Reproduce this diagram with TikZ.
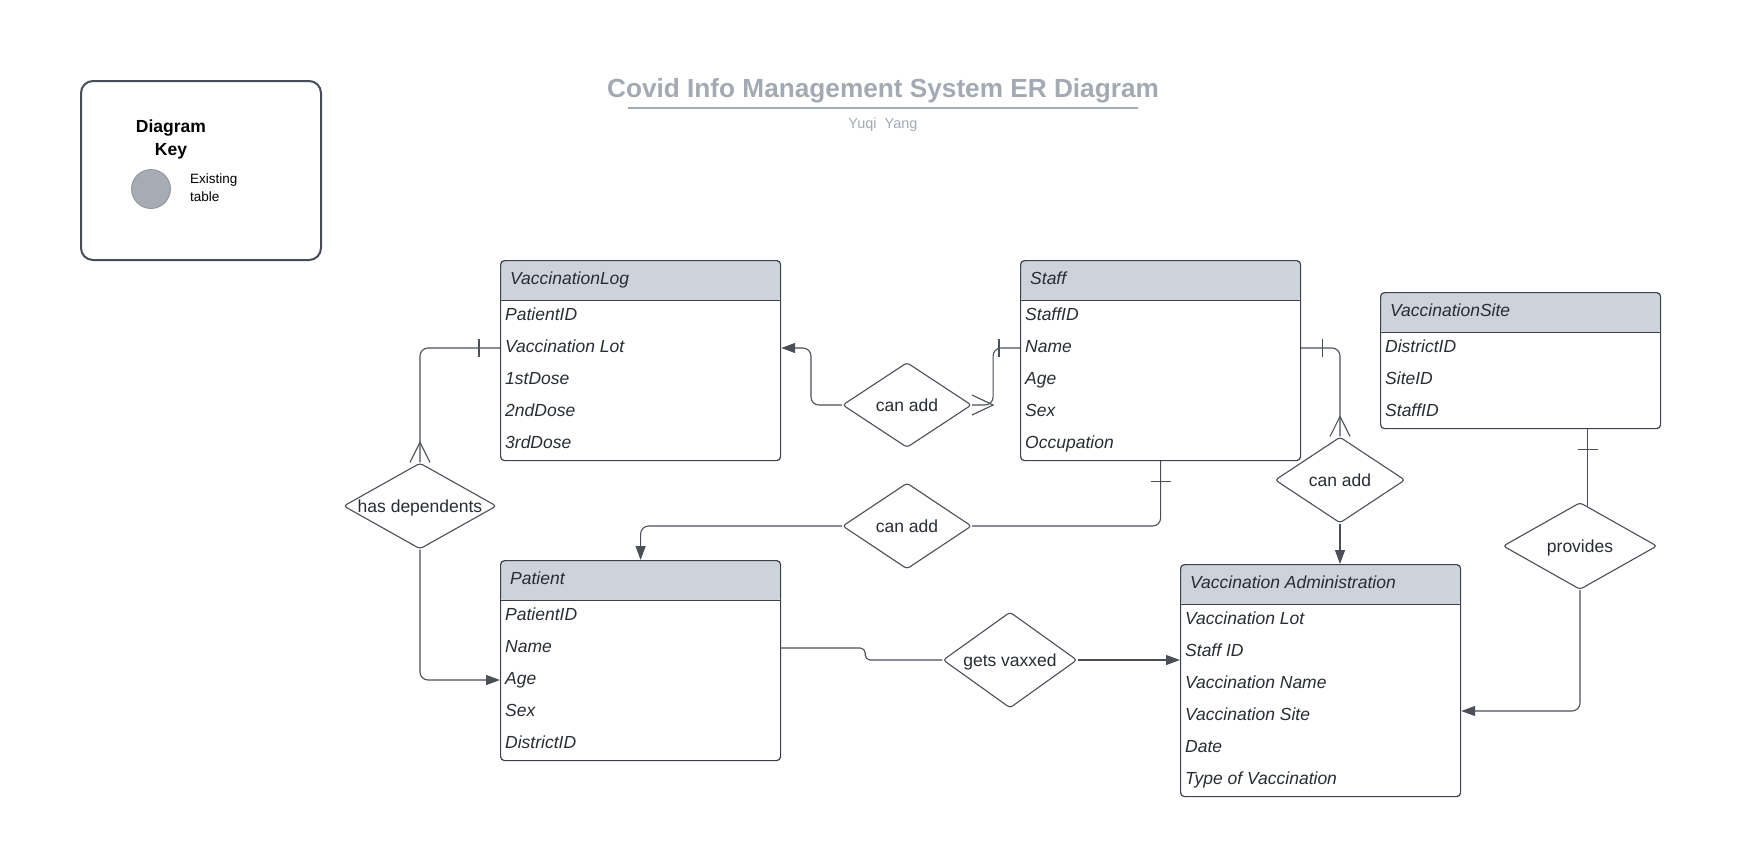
\documentclass[tikz,border=0pt]{standalone}
\usepackage{fontspec}
\setmainfont{Liberation Sans}
\usetikzlibrary{shapes.geometric,arrows.meta}
\definecolor{txt}{HTML}{282C34}
\definecolor{tblborder}{HTML}{3B404A}
\definecolor{lncol}{HTML}{4A4F58}
\definecolor{hdrfill}{HTML}{CDD3DB}
\definecolor{titlegray}{HTML}{A4AAB3}
\definecolor{keyborder}{HTML}{474C57}
\definecolor{dotfill}{HTML}{A7ACB4}
\definecolor{dotborder}{HTML}{8E939B}
\newcommand\ertbl[6]{%
  \node[tblbox, minimum height=#4pt, anchor=north west] (#1) at (#2,#3) {};
  \node[celltext] (#1-h) at (#2+10,#3+24.5) {#5};
  \foreach \rowtxt [count=\i] in {#6} {%
    \coordinate (#1-r\i) at (#2,#3+24+32*\i);
    \node[celltext] (#1-\i) at (#2+5,#3+28.5+32*\i) {\rowtxt};}
}
\begin{document}
\begin{tikzpicture}[x=1pt,y=-1pt,
  tblbox/.style={draw=tblborder, line width=1.2pt, rounded corners=4pt, minimum width=280pt, inner sep=0pt,
    path picture={\fill[hdrfill] (path picture bounding box.north west) rectangle ([yshift=-40pt]path picture bounding box.north east);
      \draw[tblborder, line width=1.2pt] ([yshift=-40pt]path picture bounding box.north west) -- ([yshift=-40pt]path picture bounding box.north east);}},
  celltext/.style={anchor=base west, inner sep=0pt, text=txt, font=\itshape\fontsize{17.5}{20}\selectfont},
  rel/.style={diamond, draw=lncol, line width=1.1pt, rounded corners=3pt, aspect=1.78, inner sep=0pt, text=txt,
    text depth=0pt, font=\fontsize{17.5}{20}\selectfont},
  conn/.style={draw=lncol, line width=1.1pt},
  arr/.style={-{Triangle[length=14pt,width=10pt]}}]
\fill[white] (0,0) rectangle (1760,852);
\useasboundingbox (0,0) rectangle (1760,852);

% title
\node[font=\bfseries\fontsize{26.2}{30}\selectfont, text=titlegray, inner sep=0pt] (title) at (883,91) {Covid Info Management System ER Diagram};
\draw[titlegray, line width=1.6pt] (628,108) -- (1138,108);
\node[font=\fontsize{14.5}{17}\selectfont, text=titlegray, inner sep=0pt] (sub) at (883,125) {Yuqi\ \ Yang};

% key
\node[draw=keyborder, line width=2pt, rounded corners=12pt, minimum width=240pt, minimum height=179pt, anchor=north west, inner sep=0pt] (key) at (80,80) {};
\node[align=center, font=\bfseries\fontsize{17.5}{23}\selectfont, inner sep=0pt] (keytitle) at (171,139) {Diagram\\Key};
\node[circle, fill=dotfill, draw=dotborder, line width=0.8pt, minimum size=39pt, inner sep=0pt] (keydot) at (151,189) {};
\node[align=left, anchor=west, font=\fontsize{13.5}{18}\selectfont, inner sep=0pt] (keytext) at (190,188) {Existing\\table};

% tables
\ertbl{vl}{500}{260}{200}{VaccinationLog}{PatientID,Vaccination Lot,1stDose,2ndDose,3rdDose}
\ertbl{st}{1020}{260}{200}{Staff}{StaffID,Name,Age,Sex,Occupation}
\ertbl{vs}{1380}{292}{136}{VaccinationSite}{DistrictID,SiteID,StaffID}
\ertbl{pt}{500}{560}{200}{Patient}{PatientID,Name,Age,Sex,DistrictID}
\ertbl{va}{1180}{564}{232}{Vaccination Administration}{Vaccination Lot,Staff ID,Vaccination Name,Vaccination Site,Date,Type of Vaccination}

% relationships
\node[rel, minimum width=129pt, minimum height=85pt] (ca1) at (907,405) {can add};
\node[rel, minimum width=153pt, minimum height=86pt] (hd) at (420,506) {has dependents};
\node[rel, minimum width=129pt, minimum height=86pt] (ca2) at (907,526) {can add};
\node[rel, minimum width=134pt, minimum height=96pt] (gv) at (1010,660) {gets vaxxed};
\node[rel, minimum width=130pt, minimum height=86pt] (ca3) at (1340,480) {can add};
\node[rel, minimum width=154pt, minimum height=87pt] (pv) at (1580,546) {provides};

% Staff -- can add -- VaccinationLog
\draw[conn, rounded corners=8pt, arr] (ca1.west) -- ++(-31,0) |- (vl.east |- vl-r2);
\draw[conn, rounded corners=8pt] (ca1.east) -- ++(21,0) |- (st.west |- st-r2);
\draw[conn] ([yshift=10pt]ca1.east) -- ([xshift=21pt]ca1.east) -- ([yshift=-10pt]ca1.east);
\draw[conn] ([xshift=-21pt,yshift=9pt]st.west |- st-r2) -- ([xshift=-21pt,yshift=-9pt]st.west |- st-r2);

% VaccinationLog -- has dependents -- Patient
\draw[conn, rounded corners=8pt] (vl.west |- vl-r2) -| (hd.north);
\draw[conn] ([xshift=-10pt]hd.north) -- ([yshift=20pt]hd.north) -- ([xshift=10pt]hd.north);
\draw[conn] ([xshift=-21pt,yshift=9pt]vl.west |- vl-r2) -- ([xshift=-21pt,yshift=-9pt]vl.west |- vl-r2);
\draw[conn, rounded corners=8pt, arr] (hd.south) |- (pt.west |- pt-r3);

% Staff -- can add -- Patient
\draw[conn, rounded corners=8pt] (st.south) |- (ca2.east);
\draw[conn] ([xshift=-10pt,yshift=-20pt]st.south) -- ([xshift=10pt,yshift=-20pt]st.south);
\draw[conn, rounded corners=8pt, arr] (ca2.west) -| (pt.north);

% Staff -- can add -- Vaccination Administration
\draw[conn, rounded corners=8pt] (st.east |- st-r2) -| (ca3.north);
\draw[conn] ([xshift=21pt,yshift=9pt]st.east |- st-r2) -- ([xshift=21pt,yshift=-9pt]st.east |- st-r2);
\draw[conn] ([xshift=-10pt]ca3.north) -- ([yshift=20pt]ca3.north) -- ([xshift=10pt]ca3.north);
\draw[conn, arr] (ca3.south) -- (ca3.south |- va.north);

% VaccinationSite -- provides -- Vaccination Administration
\draw[conn] (pv.79 |- vs.south) -- (pv.79);
\draw[conn] ([xshift=-10pt,yshift=-20pt]pv.79 |- vs.south) -- ([xshift=10pt,yshift=-20pt]pv.79 |- vs.south);
\draw[conn, rounded corners=8pt, arr] (pv.south) |- ([yshift=5pt]va.east |- va-r4);

% Patient -- gets vaxxed -- Vaccination Administration
\draw[conn, rounded corners=5pt] (pt.east |- pt-r2) -- ++(84,0) -- ++(0,12) -- (gv.west);
\draw[conn, arr] (gv.east) -- (va.west |- gv.east);
\end{tikzpicture}
\end{document}
